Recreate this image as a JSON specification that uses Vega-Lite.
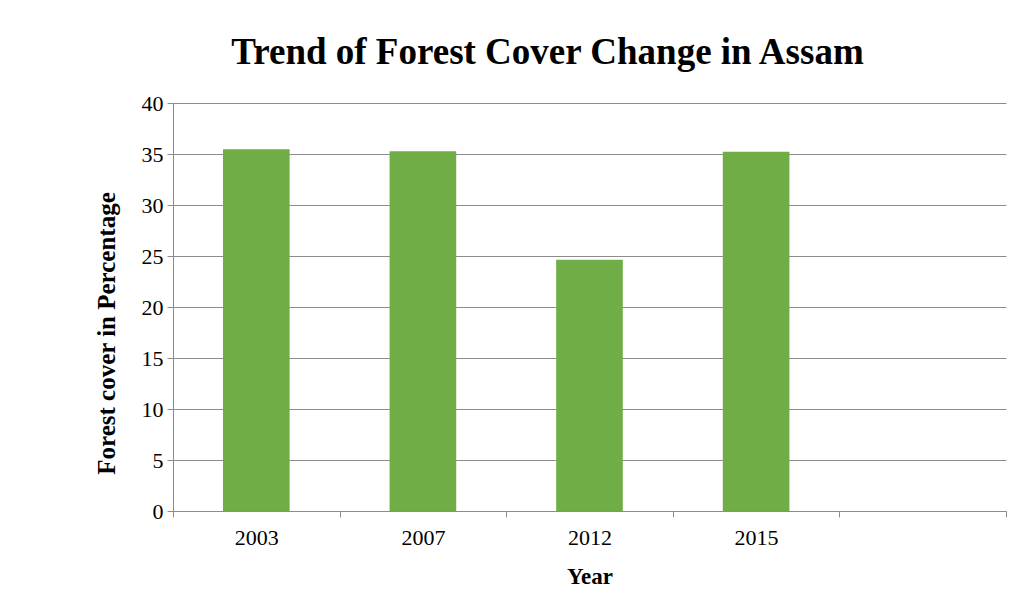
{
  "$schema": "https://vega.github.io/schema/vega-lite/v6.json",
  "width": 833,
  "height": 408,
  "autosize": {"type": "none"},
  "padding": {"left": 173, "top": 103, "right": 17, "bottom": 92},
  "background": "white",
  "title": {
    "text": "Trend of Forest Cover Change in Assam",
    "font": "Liberation Serif",
    "fontSize": 37,
    "fontWeight": "bold",
    "color": "#000000",
    "anchor": "middle",
    "dx": -42,
    "offset": 20
  },
  "data": {
    "values": [
      {"Year": "2003", "Cover": 35.46},
      {"Year": "2007", "Cover": 35.27},
      {"Year": "2012", "Cover": 24.64},
      {"Year": "2015", "Cover": 35.23}
    ]
  },
  "mark": {"type": "bar", "color": "#70AD47", "width": {"band": 0.4}},
  "encoding": {
    "x": {
      "field": "Year",
      "type": "nominal",
      "scale": {"domain": ["2003", "2007", "2012", "2015", " "], "paddingInner": 0, "paddingOuter": 0},
      "axis": {
        "title": "Year",
        "labelAngle": 0,
        "tickBand": "extent",
        "labelFont": "Liberation Serif",
        "labelFontSize": 22,
        "labelColor": "#000000",
        "labelPadding": 10,
        "titleFont": "Liberation Serif",
        "titleFontSize": 23,
        "titleFontWeight": "bold",
        "titleColor": "#000000",
        "titlePadding": 17,
        "domainColor": "#8c8c8c",
        "tickColor": "#8c8c8c",
        "tickSize": 6,
        "grid": false
      }
    },
    "y": {
      "field": "Cover",
      "type": "quantitative",
      "scale": {"domain": [0, 40], "nice": false},
      "axis": {
        "title": "Forest cover in Percentage",
        "values": [0, 5, 10, 15, 20, 25, 30, 35, 40],
        "labelFont": "Liberation Serif",
        "labelFontSize": 22,
        "labelColor": "#000000",
        "labelPadding": 4,
        "titleFont": "Liberation Serif",
        "titleFontSize": 25,
        "titleFontWeight": "bold",
        "titleColor": "#000000",
        "titlePadding": 22,
        "titleY": 230,
        "domainColor": "#8c8c8c",
        "tickColor": "#8c8c8c",
        "tickSize": 6,
        "gridColor": "#8c8c8c",
        "gridWidth": 1
      }
    }
  },
  "config": {"view": {"stroke": null}}
}
